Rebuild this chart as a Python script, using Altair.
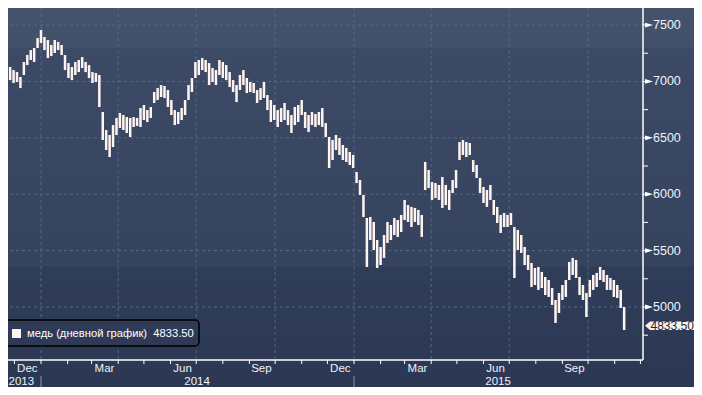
import altair as alt
import pandas as pd

# ---------------- data ----------------
series_name = "медь (дневной график)"
last_value = 4833.50
start_date = "2013-11-14"   # first bar
step_days = 4               # one bar per 4 calendar days

high = [7128, 7030, 7012, 7128, 7101, 7083, 7039, 7172, 7234, 7278,
        7296, 7385, 7456, 7394, 7367, 7323, 7367, 7349, 7323, 7234,
        7163, 7128, 7172, 7190, 7216, 7172, 7145, 7083, 7074, 7057,
        6729, 6569, 6525, 6613, 6676, 6720, 6702, 6684, 6676, 6684,
        6676, 6764, 6791, 6746, 6773, 6906, 6941, 6968, 6959, 6924,
        6835, 6746, 6729, 6764, 6835, 6968, 7030, 7172, 7190, 7207,
        7190, 7163, 7119, 7101, 7190, 7172, 7145, 7083, 7012, 6968,
        7057, 7101, 7030, 6995, 6986, 6924, 6941, 6995, 6879, 6835,
        6791, 6746, 6764, 6809, 6746, 6702, 6773, 6791, 6835, 6729,
        6702, 6729, 6711, 6729, 6764, 6631, 6507, 6481, 6525, 6498,
        6436, 6410, 6374, 6348, 6197, 6126, 5993, 5789, 5798, 5754,
        5594, 5532, 5638, 5754, 5727, 5789, 5771, 5816, 5949, 5904,
        5887, 5878, 5860, 5816, 6286, 6215, 6108, 6099, 6082, 6153,
        6082, 6037, 6126, 6215, 6463, 6481, 6463, 6454, 6303, 6259,
        6144, 6064, 6037, 6082, 5949, 5887, 5816, 5833, 5816, 5833,
        5709, 5683, 5638, 5532, 5461, 5390, 5346, 5355, 5311, 5266,
        5239, 5168, 5062, 5124, 5195, 5239, 5399, 5435, 5417, 5266,
        5195, 5124, 5239, 5284, 5302, 5355, 5328, 5284, 5257, 5239,
        5195, 5151, 5000]

low = [6968, 6924, 6941, 7012, 6986, 6995, 6941, 7057, 7145, 7190,
       7172, 7296, 7340, 7278, 7207, 7225, 7252, 7278, 7234, 7101,
       7030, 7012, 7057, 7083, 7119, 7083, 7030, 6986, 6995, 6773,
       6481, 6392, 6330, 6418, 6525, 6587, 6569, 6543, 6507, 6596,
       6605, 6596, 6658, 6640, 6676, 6809, 6835, 6862, 6853, 6773,
       6702, 6613, 6622, 6658, 6702, 6835, 6906, 7030, 7057, 7101,
       7083, 6968, 6995, 6968, 7057, 7030, 7012, 6950, 6906, 6817,
       6924, 6968, 6897, 6906, 6897, 6809, 6835, 6853, 6746, 6640,
       6658, 6596, 6640, 6658, 6613, 6543, 6613, 6640, 6702, 6587,
       6551, 6613, 6596, 6613, 6596, 6507, 6232, 6303, 6392, 6348,
       6303, 6286, 6259, 6232, 6099, 5993, 5798, 5355, 5594, 5505,
       5346, 5372, 5435, 5568, 5594, 5638, 5621, 5665, 5771, 5754,
       5709, 5754, 5727, 5621, 6037, 6055, 5949, 5966, 5949, 5878,
       5904, 5860, 6011, 6055, 6303, 6348, 6330, 6348, 6197, 6144,
       6011, 5922, 5887, 5949, 5816, 5745, 5656, 5709, 5709, 5727,
       5257, 5505, 5479, 5372, 5328, 5177, 5195, 5151, 5168, 5106,
       5089, 5018, 4858, 4947, 5062, 5089, 5239, 5284, 5257, 5106,
       5062, 4911, 5089, 5151, 5177, 5239, 5222, 5151, 5151, 5089,
       5080, 4991, 4796]

y_ticks = [4750, 5000, 5250, 5500, 5750, 6000, 6250, 6500, 6750, 7000, 7250, 7500]
y_labels = [5000, 5500, 6000, 6500, 7000, 7500]
x_grid = ["2014-01-01", "2014-04-01", "2014-07-01", "2014-10-01",
          "2015-01-01", "2015-04-01", "2015-07-01", "2015-10-01"]
month_labels = ["Dec", "Mar", "Jun", "Sep", "Dec", "Mar", "Jun", "Sep"]
month_label_dates = ["2013-12-16", "2014-03-16", "2014-06-15", "2014-09-15",
                     "2014-12-16", "2015-03-16", "2015-06-15", "2015-09-15"]
year_labels = ["2013", "2014", "2015"]
year_label_dates = ["2013-12-09", "2014-07-02", "2015-06-18"]
year_breaks = ["2014-01-01", "2015-01-01"]
x_domain_dates = ["2013-11-23T12:00:00", "2015-12-04T00:00:00"]
y_domain = [4530, 7651]

# ---------------- styling ----------------
FONT = "Liberation Sans, Arial, sans-serif"
BAR = "#fff4ef"
GRID = "#50698a"
LABEL = "#eef3fa"
W, H = 635, 352
TOTAL_W, TOTAL_H = 686, 379


def ms(s):
    return int(pd.Timestamp(s, tz="UTC").value // 10**6)


dates = pd.date_range(start_date, periods=len(high), freq=f"{step_days}D").strftime("%Y-%m-%d")
df = pd.DataFrame({"date": list(dates), "high": high, "low": low})
month_ticks = list(pd.date_range("2013-12-01", "2015-12-01", freq="MS").strftime("%Y-%m-%d"))

xs = alt.Scale(type="utc", domain=[ms(d) for d in x_domain_dates])
ys = alt.Scale(domain=y_domain, nice=False, zero=False)
one = alt.Data(values=[{}])


def X(field):
    return alt.X(field, scale=xs, axis=None)


def Y(field):
    return alt.Y(field, scale=ys, axis=None)


bg = alt.Chart(one).mark_rect(
    fill=alt.Gradient(
        gradient="linear", x1=0, x2=0, y1=0, y2=1,
        stops=[alt.GradientStop(color="#44526c", offset=0),
               alt.GradientStop(color="#425069", offset=0.105),
               alt.GradientStop(color="#3c4a66", offset=0.107),
               alt.GradientStop(color="#35435f", offset=0.68),
               alt.GradientStop(color="#303d59", offset=0.683),
               alt.GradientStop(color="#2c3853", offset=1)])
).encode(x=alt.value(0), x2=alt.value(TOTAL_W), y=alt.value(0), y2=alt.value(TOTAL_H))

hgrid = alt.Chart(pd.DataFrame({"v": y_labels})).mark_rule(
    color=GRID, strokeDash=[3, 3], strokeWidth=1
).encode(y=Y("v:Q"))

vgrid = alt.Chart(pd.DataFrame({"d": x_grid})).mark_rule(
    color=GRID, strokeDash=[3, 3], strokeWidth=1
).encode(x=X("d:T"))

bars = alt.Chart(df).mark_rule(color=BAR, strokeWidth=2.5, clip=True).encode(
    x=X("date:T"), y=Y("low:Q"), y2="high:Q")

# --- hand-drawn axes ---
y_domain_line = alt.Chart(one).mark_rule(color="#ffffff", strokeWidth=1.5).encode(
    x=alt.value(W), y=alt.value(0), y2=alt.value(H))
x_domain_line = alt.Chart(one).mark_rule(color="#ffffff", strokeWidth=1.5).encode(
    y=alt.value(H), x=alt.value(0), x2=alt.value(W))

y_minor = alt.Chart(pd.DataFrame({"v": y_ticks})).mark_rule(
    color="#ffffff", strokeWidth=1
).encode(y=Y("v:Q"), x=alt.value(W), x2=alt.value(W + 5))

tri = alt.Chart(pd.DataFrame({"v": y_labels})).mark_point(
    shape="M-1,-0.6L1,0L-1,0.6Z", filled=True, size=64, color="#ffffff", opacity=1
).encode(x=alt.value(W + 6), y=Y("v:Q"))

y_text = alt.Chart(pd.DataFrame({"v": y_labels, "t": [str(v) for v in y_labels]})).mark_text(
    font=FONT, fontSize=12.5, color=LABEL, align="left", baseline="middle"
).encode(x=alt.value(W + 10), y=Y("v:Q"), text="t:N")

x_minor = alt.Chart(pd.DataFrame({"d": month_ticks})).mark_rule(
    color="#ffffff", strokeWidth=1
).encode(x=X("d:T"), y=alt.value(H), y2=alt.value(H + 4))

mlab = alt.Chart(pd.DataFrame({"d": month_label_dates, "t": month_labels})).mark_text(
    font=FONT, fontSize=11.5, color=LABEL, baseline="alphabetic", align="center"
).encode(x=X("d:T"), y=alt.value(363.5), text="t:N")

ylab = alt.Chart(pd.DataFrame({"d": year_label_dates, "t": year_labels})).mark_text(
    font=FONT, fontSize=11.5, color=LABEL, baseline="alphabetic", align="center"
).encode(x=X("d:T"), y=alt.value(377), text="t:N")

ysep = alt.Chart(pd.DataFrame({"d": year_breaks})).mark_rule(
    color="#8a96a8", strokeWidth=1
).encode(x=X("d:T"), y=alt.value(368), y2=alt.value(TOTAL_H))

# --- legend ---
leg_box = alt.Chart(one).mark_rect(
    fill="#2f3b56", stroke="#000000", strokeWidth=1.5, cornerRadius=4
).encode(x=alt.value(-4), x2=alt.value(191), y=alt.value(312), y2=alt.value(338))

leg_sw = alt.Chart(one).mark_rect(fill=BAR).encode(
    x=alt.value(4), x2=alt.value(13), y=alt.value(321), y2=alt.value(330))

leg_txt = alt.Chart(one).mark_text(
    align="left", baseline="middle", font=FONT, fontSize=11.2, color="#ffffff"
).encode(x=alt.value(19), y=alt.value(326),
         text=alt.value(f"{series_name}\u00a0 {last_value:.2f}"))

# --- last value tag ---
lv = pd.DataFrame({"v": [last_value], "t": [f"{last_value:.2f}"]})
lv_box = alt.Chart(lv).mark_point(
    shape="M-1,0L-0.825,-0.15L1,-0.15L1,0.15L-0.825,0.15Z",
    filled=True, size=57 * 57, color="#fdf3ea", opacity=1
).encode(x=alt.value(665.5), y=Y("v:Q"))

lv_txt = alt.Chart(lv).mark_text(
    align="left", baseline="middle", font=FONT, fontSize=12, color="#1b2a44"
).encode(x=alt.value(642.5), y=Y("v:Q"), text="t:N")

chart = alt.layer(
    bg, hgrid, vgrid, bars, y_domain_line, x_domain_line, y_minor, tri, y_text,
    x_minor, mlab, ylab, ysep, leg_box, leg_sw, leg_txt, lv_box, lv_txt
).properties(
    width=W, height=H,
    padding={"left": 0, "top": 0, "right": TOTAL_W - W, "bottom": TOTAL_H - H},
    autosize=alt.AutoSizeParams(type="none"),
).configure_view(stroke=None).configure(background="#35425e")

chart.save("out.html", embed_options={"renderer": "svg", "actions": False})
